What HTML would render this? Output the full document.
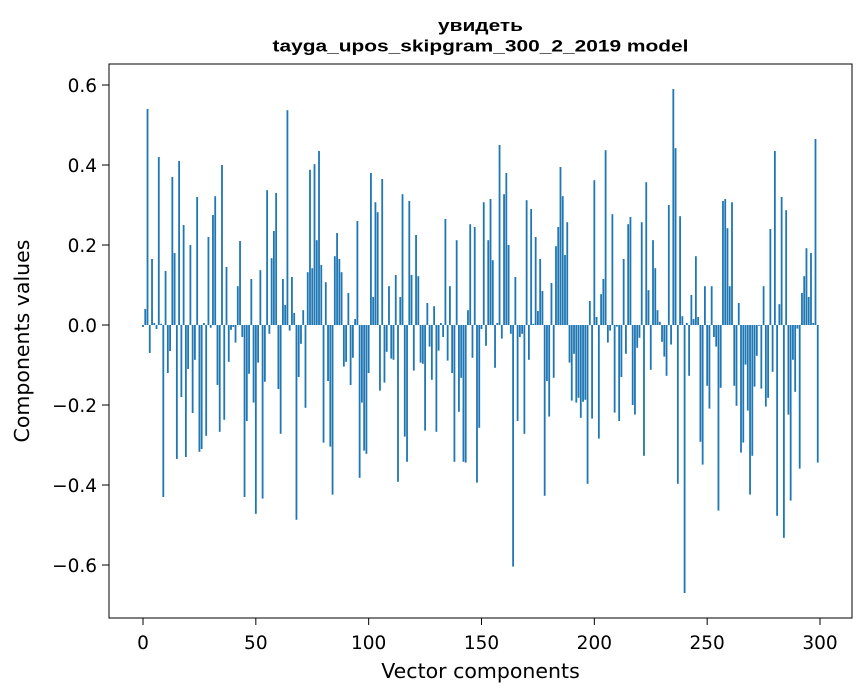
<!DOCTYPE html>
<html><head><meta charset="utf-8"><style>
html,body{margin:0;padding:0;background:#fff;}
svg{display:block;font-family:"DejaVu Sans","Liberation Sans",sans-serif;}
</style></head><body>
<svg id="chart" width="867" height="696" viewBox="0 0 867 696" xmlns="http://www.w3.org/2000/svg">
<rect x="0" y="0" width="867" height="696" fill="#fff"/>
<text x="480.5" y="31" text-anchor="middle" font-size="16.5" font-weight="bold" font-family="Liberation Sans, sans-serif" textLength="85" lengthAdjust="spacingAndGlyphs">увидеть</text>
<text x="480.5" y="51.5" text-anchor="middle" font-size="16.5" font-weight="bold" font-family="Liberation Sans, sans-serif" textLength="416" lengthAdjust="spacingAndGlyphs">tayga_upos_skipgram_300_2_2019 model</text>
<g id="bars"></g>
<g id="xticks"></g>
<g id="yticks"></g>
<rect x="109" y="64" width="743" height="554" fill="none" stroke="#000" stroke-width="1"/>
<text x="480.5" y="678" text-anchor="middle" font-size="20.5">Vector components</text>
<text transform="translate(29,341) rotate(-90)" text-anchor="middle" font-size="20.5">Components values</text>
</svg>
<script>
const values = [
-0.005,0.04,0.54,-0.07,0.165,0.005,-0.01,0.42,0.003,-0.43,
0.135,-0.12,-0.065,0.37,0.18,-0.335,0.41,-0.18,0.25,-0.33,
-0.11,0.2,-0.22,-0.087,0.32,-0.317,-0.31,0.005,-0.277,0.22,
-0.007,0.275,0.322,-0.15,-0.267,0.4,-0.237,0.145,-0.092,-0.012,
-0.005,-0.044,0.097,0.21,-0.03,-0.43,-0.24,-0.122,0.115,-0.194,
-0.472,-0.094,0.137,-0.434,-0.142,0.337,-0.022,0.167,0.235,0.33,
-0.16,-0.272,0.115,0.05,0.537,-0.014,0.12,0.03,-0.487,-0.13,
-0.047,0.037,-0.207,0.132,0.388,0.142,0.402,0.212,0.435,0.15,
-0.294,0.107,-0.14,-0.304,-0.424,0.172,0.23,0.165,0.132,-0.104,
-0.092,0.08,-0.15,-0.082,0.015,0.26,-0.382,-0.194,-0.314,-0.322,
-0.12,0.38,0.07,0.307,0.282,-0.164,0.365,-0.144,-0.067,0.097,
-0.084,-0.087,0.125,-0.392,0.07,0.327,-0.279,-0.342,0.31,0.125,
-0.114,0.225,0.122,-0.094,-0.097,-0.264,0.055,-0.054,-0.137,0.047,
-0.267,-0.064,0.005,-0.03,0.265,-0.089,0.097,-0.12,-0.342,0.212,
-0.217,-0.132,-0.342,-0.344,0.037,0.252,-0.082,0.245,-0.394,-0.257,
-0.01,0.307,-0.052,0.212,0.315,0.162,-0.107,0.005,0.45,-0.034,
0.327,0.38,0.2,-0.022,-0.604,0.12,-0.24,-0.03,-0.022,-0.272,
0.312,-0.087,0.29,0.003,0.22,0.035,0.165,0.085,-0.427,-0.14,
-0.229,0.105,-0.132,0.197,0.245,0.395,0.322,0.175,0.257,-0.094,
-0.189,-0.072,-0.194,-0.182,-0.232,-0.192,-0.187,-0.397,0.06,-0.234,
0.362,0.02,-0.284,0.077,0.115,0.437,-0.044,-0.014,0.277,-0.219,
-0.004,-0.24,-0.13,0.165,-0.072,0.252,0.27,-0.2,-0.224,-0.057,
-0.032,0.257,-0.327,0.357,0.087,-0.112,0.212,0.142,0.037,0.008,
-0.042,-0.079,-0.127,0.3,-0.049,0.59,0.442,-0.397,0.272,0.022,
-0.67,0.005,-0.127,0.075,0.015,0.172,0.02,-0.292,-0.349,0.097,
-0.152,-0.209,0.097,-0.03,-0.054,-0.464,-0.157,0.31,0.315,0.242,
0.097,0.307,-0.152,-0.202,0.055,-0.319,-0.294,-0.099,-0.214,-0.424,
-0.327,-0.154,-0.077,-0.002,-0.159,0.097,-0.204,-0.182,0.24,-0.117,
0.435,-0.477,0.052,0.32,-0.532,0.287,-0.224,-0.439,-0.087,-0.167,
-0.009,-0.359,0.08,0.122,0.192,0.07,0.18,0.005,0.465,-0.344
];
const xTicks = [0,50,100,150,200,250,300];
const yTicks = [-0.6,-0.4,-0.2,0.0,0.2,0.4,0.6];
const yTickLabels = ["\u22120.6","\u22120.4","\u22120.2","0.0","0.2","0.4","0.6"];

const NS = "http://www.w3.org/2000/svg";
function xScale(v){ return 143 + v * (677/300); }
function yScale(v){ return 325 - v * 400; }

const barsG = document.getElementById('bars');
values.forEach((v, i) => {
  const r = document.createElementNS(NS, 'rect');
  const x0 = xScale(i - 0.4), x1 = xScale(i + 0.4);
  const y0 = yScale(Math.max(v, 0)), y1 = yScale(Math.min(v, 0));
  r.setAttribute('x', x0);
  r.setAttribute('y', y0);
  r.setAttribute('width', x1 - x0);
  r.setAttribute('height', Math.max(y1 - y0, 0.3));
  r.setAttribute('fill', '#1f77b4');
  
  
  barsG.appendChild(r);
});

const xg = document.getElementById('xticks');
xTicks.forEach(t => {
  const x = xScale(t);
  const l = document.createElementNS(NS, 'line');
  l.setAttribute('x1', x); l.setAttribute('x2', x);
  l.setAttribute('y1', 618); l.setAttribute('y2', 625);
  l.setAttribute('stroke', '#000');
  
  
  xg.appendChild(l);
  const tx = document.createElementNS(NS, 'text');
  tx.setAttribute('x', x); tx.setAttribute('y', 649);
  tx.setAttribute('text-anchor', 'middle');
  tx.setAttribute('font-size', '18.5');
  
  
  tx.textContent = String(t);
  xg.appendChild(tx);
});

const yg = document.getElementById('yticks');
yTicks.forEach((t, i) => {
  const y = yScale(t);
  const l = document.createElementNS(NS, 'line');
  l.setAttribute('x1', 102); l.setAttribute('x2', 109);
  l.setAttribute('y1', y); l.setAttribute('y2', y);
  l.setAttribute('stroke', '#000');
  
  
  yg.appendChild(l);
  const tx = document.createElementNS(NS, 'text');
  tx.setAttribute('x', 97); tx.setAttribute('y', y + 7);
  tx.setAttribute('text-anchor', 'end');
  tx.setAttribute('font-size', '18.5');
  
  
  tx.textContent = yTickLabels[i];
  yg.appendChild(tx);
});
</script>
</body></html>
